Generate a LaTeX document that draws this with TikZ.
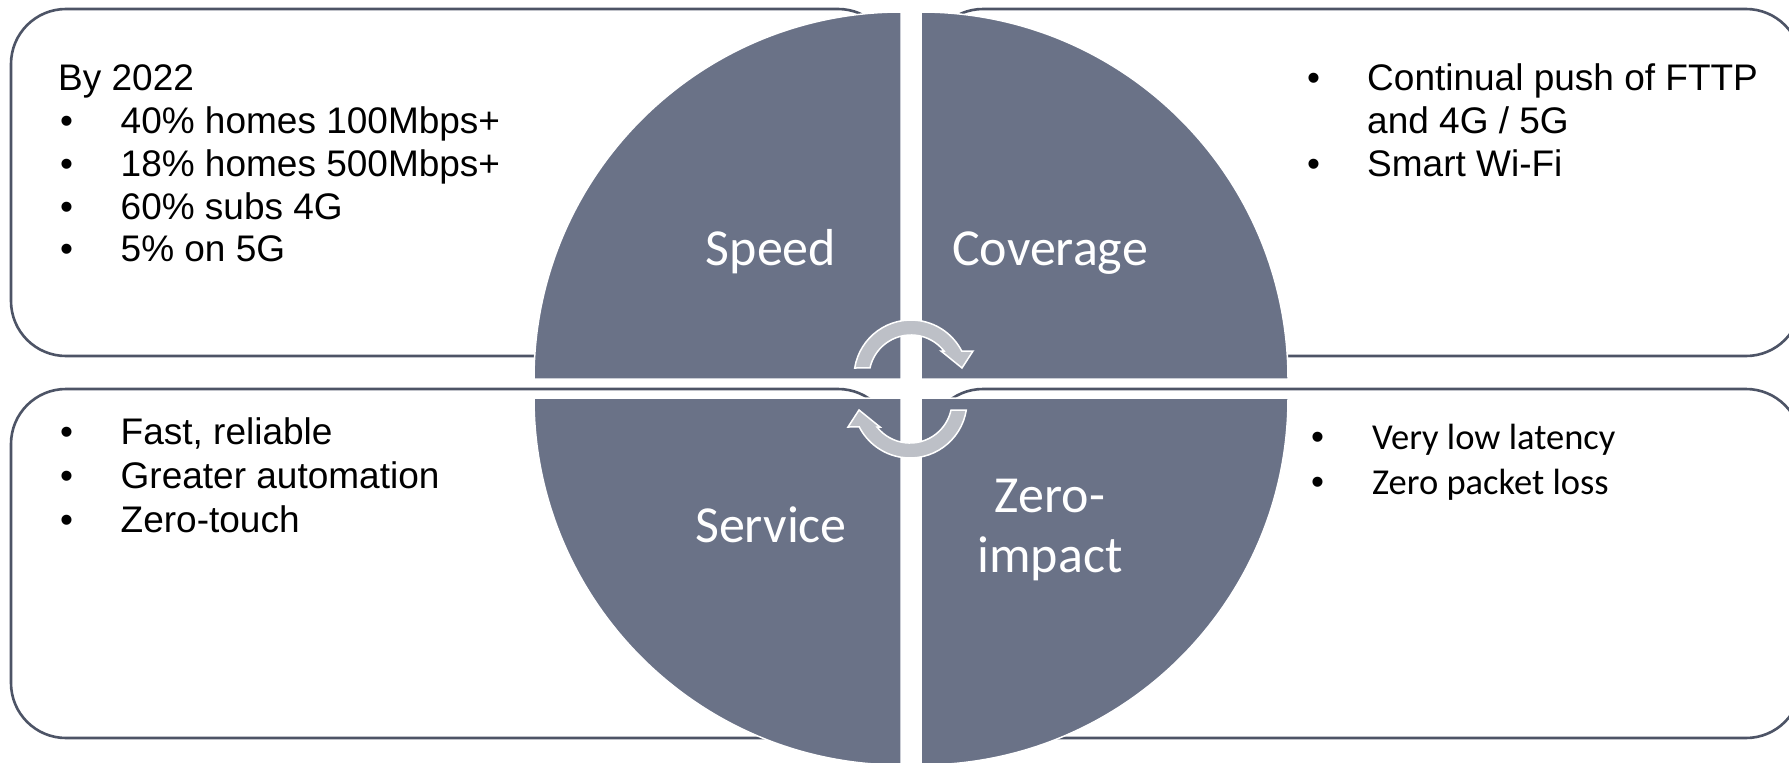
\documentclass[tikz,border=0pt]{standalone}
\usepackage{fontspec}
\setmainfont{Liberation Sans}
\newfontfamily\labelfont{Carlito}

\definecolor{wedgefill}{HTML}{6A7287}
\definecolor{boxline}{HTML}{4D5466}
\definecolor{cyclefill}{HTML}{BDC0C7}

\tikzset{
  infobox/.style={draw=boxline, line width=2.6, fill=white, rounded corners=55},
  wedge/.style={fill=wedgefill, draw=white, line width=1.5},
  cyclearrow/.style={fill=cyclefill, draw=white, line width=1.5},
  bodytext/.style={font=\fontsize{37}{43}\selectfont, text=black, inner sep=0pt, anchor=base west},
  lighttext/.style={font=\labelfont\fontsize{36.5}{44}\selectfont, text=black, inner sep=0pt, anchor=base west},
  bulletmark/.style={font=\fontsize{37}{43}\selectfont, text=black, inner sep=0pt, anchor=base west},
  quadlabel/.style={font=\labelfont\fontsize{52}{60}\selectfont, text=white, inner sep=0pt, anchor=base}
}

\begin{document}
\begin{tikzpicture}[x=1pt,y=-1pt]
\useasboundingbox (0,0) rectangle (1789,763);
\fill[white] (0,0) rectangle (1789,763);

% the four text panels behind the disc
\draw[infobox] (11,9) rectangle (893,356);
\draw[infobox] (928,9) rectangle (1801,356);
\draw[infobox] (11,389) rectangle (893,738);
\draw[infobox] (928,389) rectangle (1801,738);

% the four quarters of the disc
\path[wedge] (901,379) -- ++(-367,0) arc[start angle=180, end angle=270, radius=367] -- cycle;
\path[wedge] (921,379) -- ++(0,-367) arc[start angle=270, end angle=360, radius=367] -- cycle;
\path[wedge] (901,398) -- ++(-367,0) arc[start angle=180, end angle=90, radius=367] -- cycle;
\path[wedge] (921,398) -- ++(367,0) arc[start angle=0, end angle=90, radius=367] -- cycle;

% circular arrows in the middle
\path[cyclearrow] (854.7,368) arc[start angle=189.1, end angle=332.9, radius=57]
  -- (973,351) -- (962,368) -- (941,351) -- (944,351)
  arc[start angle=321.8, end angle=192.4, radius=42] -- cycle;
\begin{scope}[rotate around={180:(910.5,389)}]
\path[cyclearrow] (854.7,368) arc[start angle=189.1, end angle=332.9, radius=57]
  -- (973,351) -- (962,368) -- (941,351) -- (944,351)
  arc[start angle=321.8, end angle=192.4, radius=42] -- cycle;
\end{scope}

% quarter labels
\node[quadlabel] (speed) at (771,265) {Speed};
\node[quadlabel] (coverage) at (1050,265) {Coverage};
\node[quadlabel] (service) at (771,542) {Service};
\node[quadlabel] (zero) at (1050,512) {Zero-};
\node[quadlabel] (impact) at (1050,572) {impact};

% top left panel
\node[bodytext] (tlhead) at (58,90.6) {By 2022};
\foreach \y/\t [count=\i] in {133.4/40\% homes 100Mbps+, 176.2/18\% homes 500Mbps+, 219/60\% subs 4G, 261.8/5\% on 5G}{
  \node[bulletmark] (tlb\i) at (60,\y) {\textbullet};
  \node[bodytext] (tlt\i) at (120.5,\y) {\t};
}

% top right panel
\node[bulletmark] (trb1) at (1307,90.6) {\textbullet};
\node[bodytext] (trt1) at (1367,90.6) {Continual push of FTTP};
\node[bodytext] (trt2) at (1367,133.4) {and 4G / 5G};
\node[bulletmark] (trb2) at (1307,176.2) {\textbullet};
\node[bodytext] (trt3) at (1367,176.2) {Smart Wi-Fi};

% bottom left panel
\foreach \y/\t [count=\i] in {444/{Fast, reliable}, 488/Greater automation, 532/Zero-touch}{
  \node[bulletmark] (blb\i) at (60,\y) {\textbullet};
  \node[bodytext] (blt\i) at (120.5,\y) {\t};
}

% bottom right panel
\node[bulletmark] (brb1) at (1311,449) {\textbullet};
\node[lighttext] (brt1) at (1372,449) {Very low latency};
\node[bulletmark] (brb2) at (1311,494) {\textbullet};
\node[lighttext] (brt2) at (1372,494) {Zero packet loss};
\end{tikzpicture}
\end{document}
